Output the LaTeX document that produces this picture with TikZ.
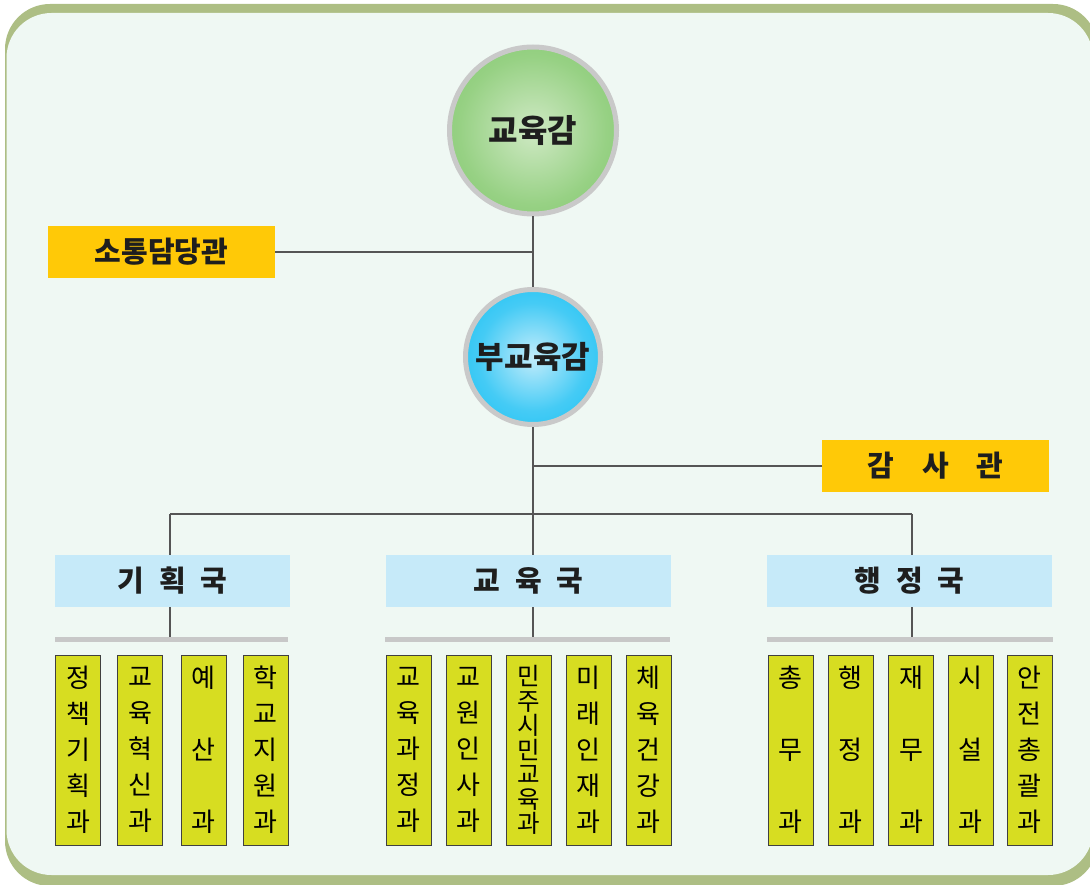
\documentclass[tikz,border=0pt]{standalone}
\usepackage{fontspec}
\newfontfamily\kr{Noto Sans CJK KR}
\definecolor{framegreen}{HTML}{ADBE84}
\definecolor{framelight}{HTML}{EFF8F3}
\definecolor{gin}{HTML}{CFE9C4}
\definecolor{gmid}{HTML}{97D184}
\definecolor{gout}{HTML}{74C262}
\definecolor{bin}{HTML}{C2ECFB}
\definecolor{bmid}{HTML}{45CBF5}
\definecolor{bout}{HTML}{00BCF1}
\definecolor{ringgray}{HTML}{C9C9C9}
\definecolor{boxyellow}{HTML}{FFC907}
\definecolor{bureaublue}{HTML}{C6EAF9}
\definecolor{secyellow}{HTML}{D7DD21}
\definecolor{bargray}{HTML}{C8C8C8}
\definecolor{linegray}{HTML}{555555}
\definecolor{textdark}{HTML}{1E1E1E}
\pgfdeclareradialshading{greenball}{\pgfpoint{0bp}{0bp}}{color(0bp)=(gin); color(22bp)=(gmid); color(44bp)=(gout); color(50bp)=(gout)}
\pgfdeclareradialshading{blueball}{\pgfpoint{0bp}{0bp}}{color(0bp)=(bin); color(20bp)=(bmid); color(44bp)=(bout); color(50bp)=(bout)}
\tikzset{
  conn/.style={draw=linegray, line width=1.5pt},
  ballnode/.style={circle, draw=ringgray, line width=5pt, inner sep=0pt, text=textdark,
    font=\kr\bfseries\fontsize{32}{34}\selectfont},
  officebox/.style={rectangle, fill=boxyellow, inner sep=0pt, minimum width=227pt, minimum height=52pt,
    text=textdark, font=\kr\bfseries\fontsize{29}{32}\selectfont},
  bureaubox/.style={rectangle, fill=bureaublue, inner sep=0pt, minimum height=52pt,
    text=textdark, font=\kr\bfseries\fontsize{29}{32}\selectfont},
  barnode/.style={rectangle, fill=bargray, inner sep=0pt, minimum height=5pt},
  secbox/.style={rectangle, draw=black!75, line width=1pt, fill=secyellow, inner sep=0pt,
    minimum width=45pt, minimum height=190pt, align=center, text=black,
    font=\kr\fontsize{26}{36}\selectfont},
  secdense/.style={secbox, font=\kr\fontsize{24.5}{24.5}\selectfont}
}
\begin{document}
\begin{tikzpicture}[x=1pt, y=-1pt]
\useasboundingbox (0,0) rectangle (1090,885);
% frame
\fill[framegreen, rounded corners=45pt] (5,4) rectangle (1098,886);
\fill[framelight, rounded corners=45pt] (6.5,13) rectangle (1093,875);

% top circles
\node[ballnode, shading=greenball, minimum size=167pt] (top) at (533,130.5) {교육감};
\node[ballnode, shading=blueball, minimum size=135pt, font=\kr\bfseries\fontsize{31}{33}\selectfont] (bu) at (533,357) {부교육감};

% offices
\node[officebox] (sot) at (161.5,252) {소통담당관};
\node[officebox] (gam) at (935.5,466) {감\hspace{28pt}사\hspace{28pt}관};

% bureaus
\node[bureaubox, minimum width=235pt] (gi) at (172.5,581) {기\hspace{15pt}획\hspace{15pt}국};
\node[bureaubox, minimum width=285pt] (ed) at (528.5,581) {교\hspace{15pt}육\hspace{15pt}국};
\node[bureaubox, minimum width=285pt] (hj) at (909.5,581) {행\hspace{15pt}정\hspace{15pt}국};

% bars
\node[barnode, minimum width=233pt] (gbar) at (171.5,639.5) {};
\node[barnode, minimum width=285pt] (ebar) at (527.5,639.5) {};
\node[barnode, minimum width=286pt] (hbar) at (910,639.5) {};

% junction coordinates
\coordinate (jl) at (170,514);
\coordinate (jr) at (912,514);

% connectors
\draw[conn] (top.south) -- (bu.north);
\draw[conn] (sot.east) -- (sot.east -| top);
\draw[conn] (gam.west) -- (gam.west -| bu);
\draw[conn] (bu.south) -- (bu.south |- ed.north);
\draw[conn] (jl) -- (jr);
\draw[conn] (jl) -- (jl |- gi.north);
\draw[conn] (jr) -- (jr |- hj.north);
\draw[conn] (gi.south -| jl) -- (gbar.north -| jl);
\draw[conn] (ed.south -| bu) -- (ebar.north -| bu);
\draw[conn] (hj.south -| jr) -- (hbar.north -| jr);

% sections: 기획국
\node[secbox] (s1) at (78,750) {정\\책\\기\\획\\과};
\node[secbox] (s2) at (140,750) {교\\육\\혁\\신\\과};
\node[secbox] (s3) at (203.5,750) {예\\~\\산\\~\\과};
\node[secbox] (s4) at (265.5,750) {학\\교\\지\\원\\과};
% sections: 교육국
\node[secbox] (s5) at (408.5,750) {교\\육\\과\\정\\과};
\node[secbox] (s6) at (468.5,750) {교\\원\\인\\사\\과};
\node[secdense] (s7) at (529,750) {민\\주\\시\\민\\교\\육\\과};
\node[secbox] (s8) at (588.5,750) {미\\래\\인\\재\\과};
\node[secbox] (s9) at (648.5,750) {체\\육\\건\\강\\과};
% sections: 행정국
\node[secbox] (s10) at (790.5,750) {총\\~\\무\\~\\과};
\node[secbox] (s11) at (850.5,750) {행\\~\\정\\~\\과};
\node[secbox] (s12) at (911,750) {재\\~\\무\\~\\과};
\node[secbox] (s13) at (970.5,750) {시\\~\\설\\~\\과};
\node[secbox] (s14) at (1029.5,750) {안\\전\\총\\괄\\과};
\end{tikzpicture}
\end{document}
